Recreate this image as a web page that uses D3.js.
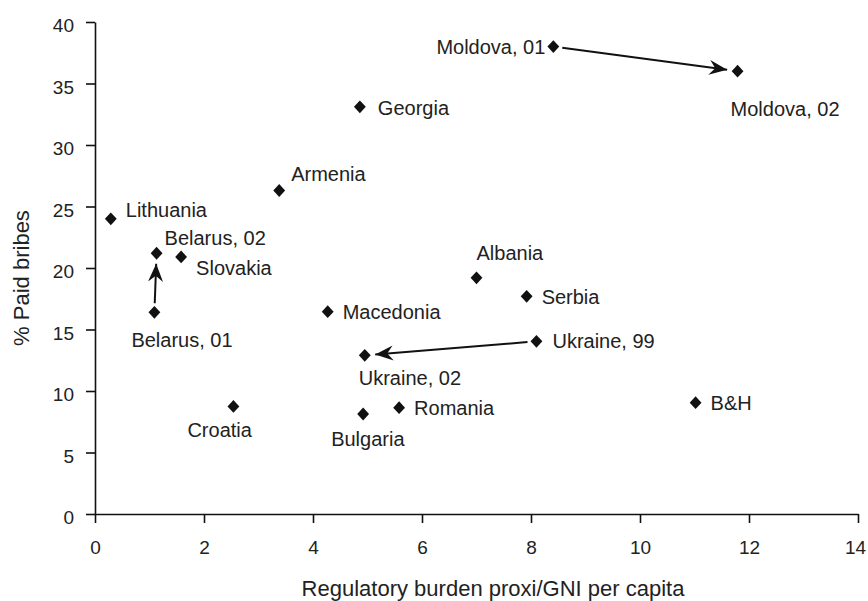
<!DOCTYPE html>
<html>
<head>
<meta charset="utf-8">
<script src="https://cdn.jsdelivr.net/npm/d3@7"></script>
<style>
  html, body { margin: 0; padding: 0; background: #fff; }
  svg { display: block; }
  text { font-family: "Liberation Sans", Arial, Helvetica, sans-serif; fill: #222; }
</style>
</head>
<body>
<svg id="chart" width="868" height="601"></svg>
<script>
// Country observations: regulatory burden proxy vs. share paying bribes
const countries = ["Lithuania", "Belarus, 02", "Slovakia", "Armenia", "Belarus, 01", "Croatia",
  "Georgia", "Moldova, 01", "Albania", "Moldova, 02", "Serbia", "Macedonia",
  "Ukraine, 99", "Ukraine, 02", "Romania", "Bulgaria", "B&H"];
const burden = [0.29, 1.13, 1.58, 3.38, 1.09, 2.54, 4.86, 8.41, 7.0, 11.79, 7.92, 4.27, 8.10, 4.95, 5.58, 4.92, 11.02];
const paidBribes = [24.0, 21.2, 20.9, 26.3, 16.4, 8.75, 33.1, 38.0, 19.2, 36.0, 17.7, 16.45, 14.04, 12.9, 8.64, 8.13, 9.05];

// Changes over time, drawn as arrows from the earlier survey to the later one
const arrowFrom = ["Moldova, 01", "Ukraine, 99", "Belarus, 01"];
const arrowTo = ["Moldova, 02", "Ukraine, 02", "Belarus, 02"];

// Axis ticks
const xTicks = [0, 2, 4, 6, 8, 10, 12, 14];
const yTicks = [0, 5, 10, 15, 20, 25, 30, 35, 40];

// Label placement around each marker: [anchor, dx, dy]
const labelPlacement = {
  "Lithuania": ["start", 15, -1.5],
  "Belarus, 02": ["start", 8, -8],
  "Slovakia": ["start", 15, 18],
  "Armenia": ["start", 12, -10],
  "Belarus, 01": ["start", -23, 35],
  "Croatia": ["start", -46, 31],
  "Georgia": ["start", 18, 8],
  "Moldova, 01": ["end", -8, 7],
  "Albania": ["start", 0, -18],
  "Moldova, 02": ["start", -7, 45],
  "Serbia": ["start", 15, 8],
  "Macedonia": ["start", 15, 7],
  "Ukraine, 99": ["start", 16, 7],
  "Ukraine, 02": ["start", -6, 30],
  "Romania": ["start", 15, 7],
  "Bulgaria": ["start", -32, 32],
  "B&H": ["start", 15, 7]
};

const width = 868, height = 601;
const margin = { top: 22, right: 10, bottom: 87, left: 95 };

const svg = d3.select("#chart");

const x = d3.scaleLinear().domain([0, 14]).range([margin.left, width - margin.right]);
const y = d3.scaleLinear().domain([0, 40]).range([height - margin.bottom, margin.top]);

const points = countries.map((name, i) => ({ name, bx: burden[i], by: paidBribes[i] }));
const byName = new Map(points.map(p => [p.name, p]));

// Axes
const xAxis = svg.append("g")
  .attr("transform", `translate(0,${y(0)})`)
  .call(d3.axisBottom(x).tickValues(xTicks).tickSize(9).tickPadding(11).tickSizeOuter(0));
const yAxis = svg.append("g")
  .attr("transform", `translate(${x(0)},0)`)
  .call(d3.axisLeft(y).tickValues(yTicks).tickSize(9).tickPadding(12).tickSizeOuter(0));

[xAxis, yAxis].forEach(g => {
  g.select(".domain").attr("stroke", "#111").attr("stroke-width", 1.6);
  g.selectAll(".tick line").attr("stroke", "#111").attr("stroke-width", 1.6);
  g.selectAll(".tick text").attr("font-size", 19).attr("fill", "#222")
    .style("font-family", "'Liberation Sans', Arial, sans-serif");
});
xAxis.selectAll(".tick text").attr("dy", "1.05em");
yAxis.selectAll(".tick text").attr("dy", "0.5em");
// keep the last x tick label inside the page edge
xAxis.selectAll(".tick text").filter(d => d === 14).attr("dx", -3);

// Axis titles
svg.append("text")
  .attr("x", 493).attr("y", 596)
  .attr("text-anchor", "middle")
  .attr("font-size", 22)
  .text("Regulatory burden proxi/GNI per capita");

svg.append("text")
  .attr("transform", `translate(29,${278}) rotate(-90)`)
  .attr("text-anchor", "middle")
  .attr("font-size", 22)
  .text("% Paid bribes");

// Arrowhead marker
svg.append("defs").append("marker")
  .attr("id", "arrowhead")
  .attr("viewBox", "-18 -8 18 16")
  .attr("refX", 0).attr("refY", 0)
  .attr("markerUnits", "userSpaceOnUse")
  .attr("markerWidth", 18).attr("markerHeight", 16)
  .attr("orient", "auto")
  .append("path")
  .attr("d", "M0,0 L-18,-7.5 L-12,0 L-18,7.5 Z")
  .attr("fill", "#111");

// Arrows between survey years
const gapStart = 9, gapEnd = 10.5;
svg.append("g").selectAll("line")
  .data(arrowFrom.map((f, i) => [byName.get(f), byName.get(arrowTo[i])]))
  .join("line")
  .each(function ([a, b]) {
    const x1 = x(a.bx), y1 = y(a.by), x2 = x(b.bx), y2 = y(b.by);
    const len = Math.hypot(x2 - x1, y2 - y1);
    const ux = (x2 - x1) / len, uy = (y2 - y1) / len;
    d3.select(this)
      .attr("x1", x1 + ux * gapStart).attr("y1", y1 + uy * gapStart)
      .attr("x2", x2 - ux * gapEnd).attr("y2", y2 - uy * gapEnd);
  })
  .attr("stroke", "#111")
  .attr("stroke-width", 2)
  .attr("marker-end", "url(#arrowhead)");

// Diamond markers
const diamond = d3.symbol().type(d3.symbolSquare).size(70);
svg.append("g").selectAll("path")
  .data(points)
  .join("path")
  .attr("d", diamond)
  .attr("transform", d => `translate(${x(d.bx)},${y(d.by)}) scale(1,1.08) rotate(45)`)
  .attr("fill", "#111");

// Country labels
svg.append("g").selectAll("text")
  .data(points)
  .join("text")
  .attr("x", d => x(d.bx) + labelPlacement[d.name][1])
  .attr("y", d => y(d.by) + labelPlacement[d.name][2])
  .attr("text-anchor", d => labelPlacement[d.name][0])
  .attr("font-size", 20)
  .text(d => d.name);
</script>
</body>
</html>
